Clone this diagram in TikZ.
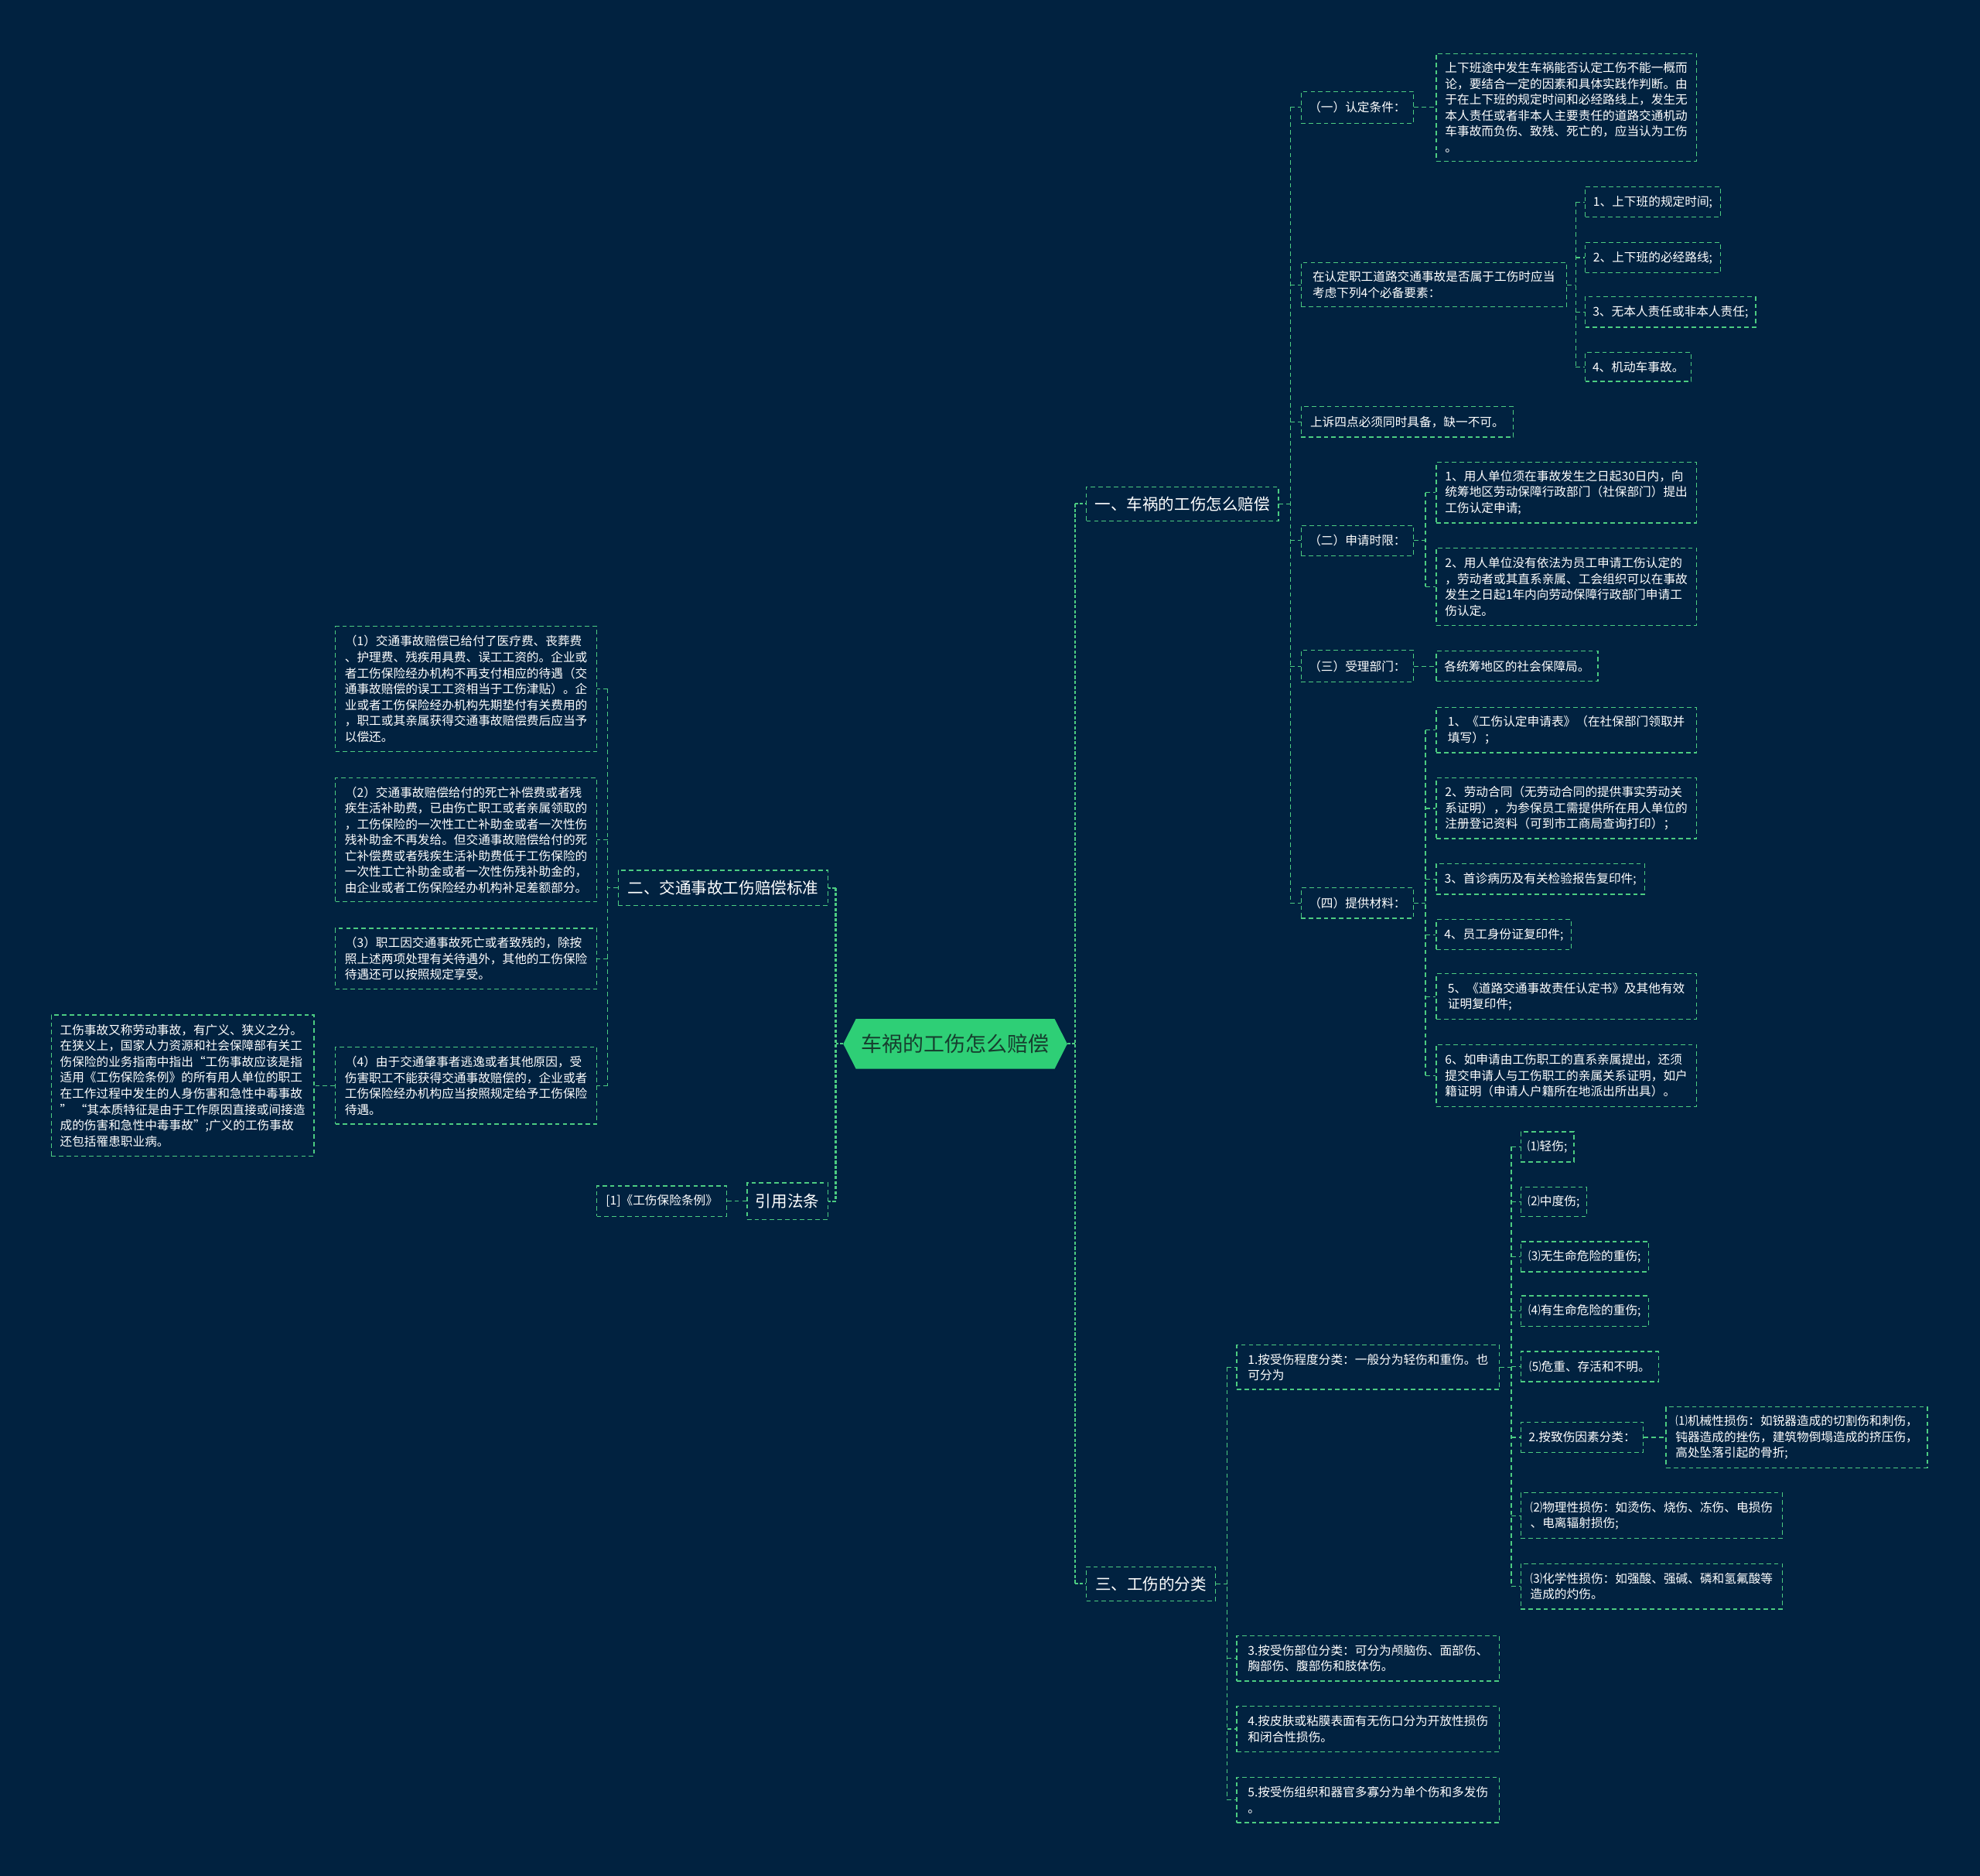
\documentclass[tikz,border=0pt]{standalone}
\usepackage{fontspec}
\setmainfont{Noto Sans CJK SC}
\definecolor{bg}{RGB}{1,34,64}
\definecolor{ln}{RGB}{76,204,130}
\definecolor{cfill}{RGB}{46,207,118}
\definecolor{ctxt}{RGB}{22,62,46}
\tikzset{
 box/.style={draw=ln, line width=0.8pt, dash pattern=on 3.5pt off 2.5pt, text=white, align=left, inner xsep=5pt, inner ysep=2pt, font=\fontsize{9.6}{12.6}\selectfont},
 big/.style={font=\fontsize{12.6}{15}\selectfont},
 conn/.style={draw=ln, line width=0.8pt, dash pattern=on 3.5pt off 2.5pt},
 mainconn/.style={draw=ln, line width=1.3pt, dash pattern=on 2.5pt off 1.5pt},
}
\begin{document}
\begin{tikzpicture}[x=1pt,y=-1pt]
\fill[bg] (0,0) rectangle (1568,1485);
% centre
\node[inner sep=0, minimum width=177pt, minimum height=39pt] (c) at (756.5,826.5) {};
\fill[cfill] (c.west) -- ([xshift=10pt]c.north west) -- ([xshift=-10pt]c.north east) -- (c.east) -- ([xshift=-10pt]c.south east) -- ([xshift=10pt]c.south west) -- cycle;
\node[text=ctxt, font=\fontsize{16.5}{20}\selectfont] (ct) at (c) {车祸的工伤怎么赔偿};
% level 1
\node[box, big, anchor=west, minimum width=152pt, minimum height=27pt] (n1) at (860,399) {一、车祸的工伤怎么赔偿};
\node[box, big, anchor=west, minimum width=102pt, minimum height=27pt] (n3) at (860,1254) {三、工伤的分类};
\node[box, big, anchor=east, minimum width=166pt, minimum height=28pt] (n2) at (656,703) {二、交通事故工伤赔偿标准};
\node[box, big, anchor=east, minimum width=64pt, minimum height=29pt] (n4) at (656,951) {引用法条};
\node[box, anchor=east, minimum width=103pt, minimum height=24pt] (n4c) at (576,951) {[1]《工伤保险条例》};
% section 1
\node[box, anchor=west, minimum width=89pt, minimum height=25pt] (a1) at (1030,85) {（一）认定条件：};
\node[box, anchor=west, minimum width=210pt, minimum height=35pt] (a2) at (1030,225.5) {在认定职工道路交通事故是否属于工伤时应当\\考虑下列4个必备要素：};
\node[box, anchor=west, minimum width=168pt, minimum height=24pt] (a3) at (1030,334) {上诉四点必须同时具备，缺一不可。};
\node[box, anchor=west, minimum width=89pt, minimum height=24pt] (a4) at (1030,428) {（二）申请时限：};
\node[box, anchor=west, minimum width=89pt, minimum height=25pt] (a5) at (1030,527.5) {（三）受理部门：};
\node[box, anchor=west, minimum width=89pt, minimum height=24pt] (a6) at (1030,715) {（四）提供材料：};
\node[box, anchor=west, minimum width=206pt, minimum height=85pt] (a1c) at (1137,85) {上下班途中发生车祸能否认定工伤不能一概而\\论，要结合一定的因素和具体实践作判断。由\\于在上下班的规定时间和必经路线上，发生无\\本人责任或者非本人主要责任的道路交通机动\\车事故而负伤、致残、死亡的，应当认为工伤\\。};
\node[box, anchor=west, minimum width=107pt, minimum height=24pt] (a2c1) at (1255,160) {1、上下班的规定时间;};
\node[box, anchor=west, minimum width=107pt, minimum height=24pt] (a2c2) at (1255,204) {2、上下班的必经路线;};
\node[box, anchor=west, minimum width=135pt, minimum height=24pt] (a2c3) at (1255,247) {3、无本人责任或非本人责任;};
\node[box, anchor=west, minimum width=84pt, minimum height=23pt] (a2c4) at (1255,290.5) {4、机动车事故。};
\node[box, anchor=west, minimum width=206pt, minimum height=48pt] (a4c1) at (1137,390) {1、用人单位须在事故发生之日起30日内，向\\统筹地区劳动保障行政部门（社保部门）提出\\工伤认定申请;};
\node[box, anchor=west, minimum width=206pt, minimum height=61pt] (a4c2) at (1137,464.5) {2、用人单位没有依法为员工申请工伤认定的\\，劳动者或其直系亲属、工会组织可以在事故\\发生之日起1年内向劳动保障行政部门申请工\\伤认定。};
\node[box, anchor=west, minimum width=128pt, minimum height=24pt] (a5c) at (1137,527.5) {各统筹地区的社会保障局。};
\node[box, anchor=west, minimum width=206pt, minimum height=36pt] (a6c1) at (1137,578) {1、《工伤认定申请表》（在社保部门领取并\\填写）；};
\node[box, anchor=west, minimum width=206pt, minimum height=48pt] (a6c2) at (1137,640) {2、劳动合同（无劳动合同的提供事实劳动关\\系证明），为参保员工需提供所在用人单位的\\注册登记资料（可到市工商局查询打印）；};
\node[box, anchor=west, minimum width=165pt, minimum height=24pt] (a6c3) at (1137,696) {3、首诊病历及有关检验报告复印件;};
\node[box, anchor=west, minimum width=107pt, minimum height=24pt] (a6c4) at (1137,740) {4、员工身份证复印件;};
\node[box, anchor=west, minimum width=206pt, minimum height=36pt] (a6c5) at (1137,789) {5、《道路交通事故责任认定书》及其他有效\\证明复印件;};
\node[box, anchor=west, minimum width=206pt, minimum height=49pt] (a6c6) at (1137,851.5) {6、如申请由工伤职工的直系亲属提出，还须\\提交申请人与工伤职工的亲属关系证明，如户\\籍证明（申请人户籍所在地派出所出具）。};
% section 3
\node[box, anchor=west, minimum width=208pt, minimum height=35pt] (b1) at (979,1082.5) {1.按受伤程度分类：一般分为轻伤和重伤。也\\可分为};
\node[box, anchor=west, minimum width=208pt, minimum height=36pt] (b3) at (979,1313) {3.按受伤部位分类：可分为颅脑伤、面部伤、\\胸部伤、腹部伤和肢体伤。};
\node[box, anchor=west, minimum width=208pt, minimum height=36pt] (b4) at (979,1369) {4.按皮肤或粘膜表面有无伤口分为开放性损伤\\和闭合性损伤。};
\node[box, anchor=west, minimum width=208pt, minimum height=36pt] (b5) at (979,1425) {5.按受伤组织和器官多寡分为单个伤和多发伤\\。};
\node[box, anchor=west, minimum width=42pt, minimum height=24pt] (b1c1) at (1204,908) {⑴轻伤;};
\node[box, anchor=west, minimum width=52pt, minimum height=23pt] (b1c2) at (1204,951.5) {⑵中度伤;};
\node[box, anchor=west, minimum width=101pt, minimum height=24pt] (b1c3) at (1204,995) {⑶无生命危险的重伤;};
\node[box, anchor=west, minimum width=101pt, minimum height=24pt] (b1c4) at (1204,1038) {⑷有生命危险的重伤;};
\node[box, anchor=west, minimum width=109pt, minimum height=24pt] (b1c5) at (1204,1082) {⑸危重、存活和不明。};
\node[box, anchor=west, minimum width=97pt, minimum height=24pt] (b1c6) at (1204,1138) {2.按致伤因素分类：};
\node[box, anchor=west, minimum width=207pt, minimum height=48pt] (b1c6c) at (1319,1138) {⑴机械性损伤：如锐器造成的切割伤和刺伤，\\钝器造成的挫伤，建筑物倒塌造成的挤压伤，\\高处坠落引起的骨折;};
\node[box, anchor=west, minimum width=207pt, minimum height=36pt] (b1c7) at (1204,1200) {⑵物理性损伤：如烫伤、烧伤、冻伤、电损伤\\、电离辐射损伤;};
\node[box, anchor=west, minimum width=207pt, minimum height=36pt] (b1c8) at (1204,1256) {⑶化学性损伤：如强酸、强碱、磷和氢氟酸等\\造成的灼伤。};
% section 2 (left)
\node[box, anchor=east, minimum width=207pt, minimum height=99pt] (L1) at (473,545.5) {（1）交通事故赔偿已给付了医疗费、丧葬费\\、护理费、残疾用具费、误工工资的。企业或\\者工伤保险经办机构不再支付相应的待遇（交\\通事故赔偿的误工工资相当于工伤津贴）。企\\业或者工伤保险经办机构先期垫付有关费用的\\，职工或其亲属获得交通事故赔偿费后应当予\\以偿还。};
\node[box, anchor=east, minimum width=207pt, minimum height=98pt] (L2) at (473,665) {（2）交通事故赔偿给付的死亡补偿费或者残\\疾生活补助费，已由伤亡职工或者亲属领取的\\，工伤保险的一次性工亡补助金或者一次性伤\\残补助金不再发给。但交通事故赔偿给付的死\\亡补偿费或者残疾生活补助费低于工伤保险的\\一次性工亡补助金或者一次性伤残补助金的，\\由企业或者工伤保险经办机构补足差额部分。};
\node[box, anchor=east, minimum width=207pt, minimum height=48pt] (L3) at (473,759) {（3）职工因交通事故死亡或者致残的，除按\\照上述两项处理有关待遇外，其他的工伤保险\\待遇还可以按照规定享受。};
\node[box, anchor=east, minimum width=207pt, minimum height=61pt] (L4) at (473,859.5) {（4）由于交通肇事者逃逸或者其他原因，受\\伤害职工不能获得交通事故赔偿的，企业或者\\工伤保险经办机构应当按照规定给予工伤保险\\待遇。};
\node[box, anchor=east, minimum width=208pt, minimum height=112pt] (L4c) at (249,859.5) {工伤事故又称劳动事故，有广义、狭义之分。\\在狭义上，国家人力资源和社会保障部有关工\\伤保险的业务指南中指出“工伤事故应该是指\\适用《工伤保险条例》的所有用人单位的职工\\在工作过程中发生的人身伤害和急性中毒事故\\” “其本质特征是由于工作原因直接或间接造\\成的伤害和急性中毒事故”;广义的工伤事故\\还包括罹患职业病。};
% connectors: centre
\draw[mainconn] (c.east) -- ++(6pt,0) coordinate (tc);
\draw[mainconn] (tc |- n1.west) -- (tc |- n3.west);
\draw[mainconn] (tc |- n1.west) -- (n1.west);
\draw[mainconn] (tc |- n3.west) -- (n3.west);
\draw[mainconn] (c.west) -- ++(-6pt,0) coordinate (tcl);
\draw[mainconn] (tcl |- n2.east) -- (tcl |- n4.east);
\draw[mainconn] (tcl |- n2.east) -- (n2.east);
\draw[mainconn] (tcl |- n4.east) -- (n4.east);
% section 1
\draw[conn] (n1.east) -- ++(9pt,0) coordinate (t1);
\draw[conn] (t1 |- a1.west) -- (t1 |- a6.west);
\foreach \k in {a1,a2,a3,a4,a5,a6} \draw[conn] (t1 |- \k.west) -- (\k.west);
\draw[conn] (a1.east) -- (a1c.west);
\draw[conn] (a5.east) -- (a5c.west);
\draw[conn] (a2.east) -- ++(7pt,0) coordinate (t2);
\draw[conn] (t2 |- a2c1.west) -- (t2 |- a2c4.west);
\foreach \k in {a2c1,a2c2,a2c3,a2c4} \draw[conn] (t2 |- \k.west) -- (\k.west);
\draw[conn] (a4.east) -- ++(9pt,0) coordinate (t4);
\draw[conn] (t4 |- a4c1.west) -- (t4 |- a4c2.west);
\foreach \k in {a4c1,a4c2} \draw[conn] (t4 |- \k.west) -- (\k.west);
\draw[conn] (a6.east) -- ++(9pt,0) coordinate (t6);
\draw[conn] (t6 |- a6c1.west) -- (t6 |- a6c6.west);
\foreach \k in {a6c1,a6c2,a6c3,a6c4,a6c5,a6c6} \draw[conn] (t6 |- \k.west) -- (\k.west);
% section 3
\draw[conn] (n3.east) -- ++(9pt,0) coordinate (t3);
\draw[conn] (t3 |- b1.west) -- (t3 |- b5.west);
\foreach \k in {b1,b3,b4,b5} \draw[conn] (t3 |- \k.west) -- (\k.west);
\draw[conn] (b1.east) -- ++(9pt,0) coordinate (tb);
\draw[conn] (tb |- b1c1.west) -- (tb |- b1c8.west);
\foreach \k in {b1c1,b1c2,b1c3,b1c4,b1c5,b1c6,b1c7,b1c8} \draw[conn] (tb |- \k.west) -- (\k.west);
\draw[conn] (b1c6.east) -- (b1c6c.west);
% section 2
\draw[conn] (n2.west) -- ++(-8pt,0) coordinate (tl);
\draw[conn] (tl |- L1.east) -- (tl |- L4.east);
\foreach \k in {L1,L2,L3,L4} \draw[conn] (tl |- \k.east) -- (\k.east);
\draw[conn] (L4.west) -- (L4c.east);
\draw[conn] (n4.west) -- (n4c.east);
\end{tikzpicture}
\end{document}
